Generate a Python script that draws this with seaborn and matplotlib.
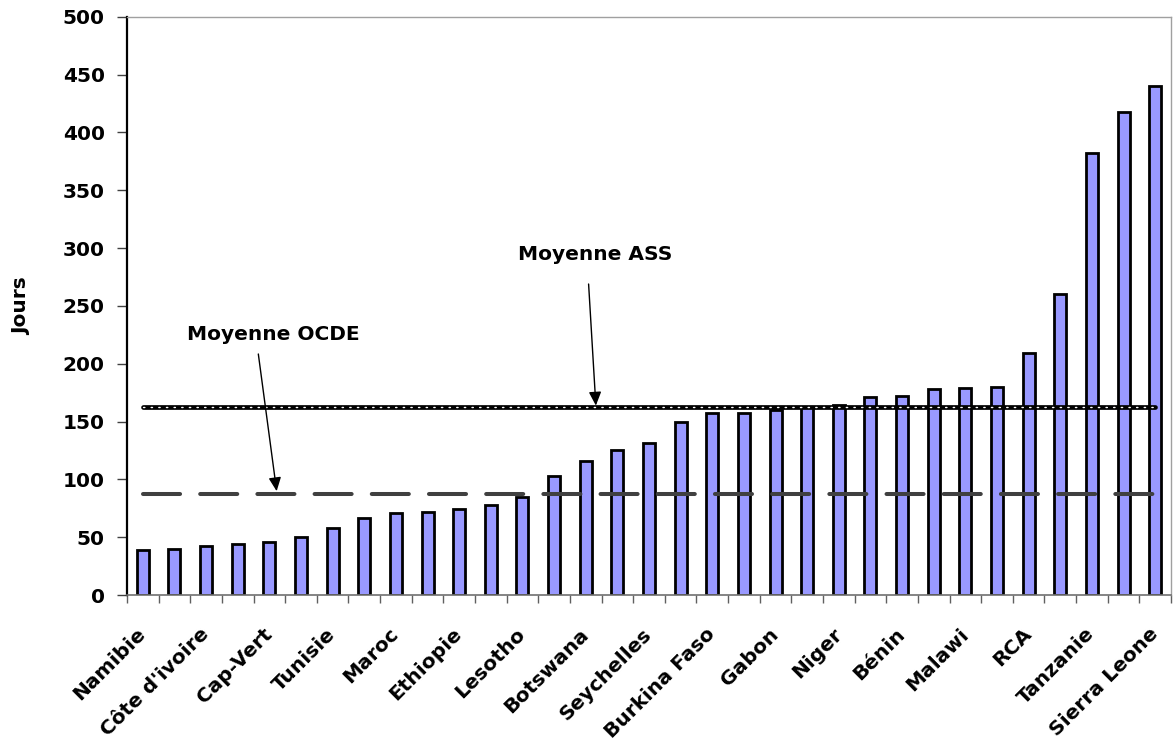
import numpy as np
import pandas as pd
import matplotlib
matplotlib.use("Agg")
import matplotlib.pyplot as plt
import seaborn as sns

# Délais (jours) classés par ordre croissant, un pays sur deux étiqueté
pays_affiches = ["Namibie", "Côte d'ivoire", "Cap-Vert", "Tunisie", "Maroc",
                 "Ethiopie", "Lesotho", "Botswana", "Seychelles", "Burkina Faso",
                 "Gabon", "Niger", "Bénin", "Malawi", "RCA", "Tanzanie",
                 "Sierra Leone"]
jours = [39, 40, 42.5, 44, 45.5, 50, 58, 67, 71, 72, 74, 77.5, 85, 103, 116,
         125, 131.5, 150, 157.5, 157.5, 160, 163, 164, 171, 172, 178, 179, 180,
         209.5, 260, 382, 417.5, 440]
moyenne_ocde = 87.3
moyenne_ass = 162.3
graduations_y = [0, 50, 100, 150, 200, 250, 300, 350, 400, 450, 500]

sns.set_theme(style="white")
plt.rcParams["font.family"] = ["DejaVu Sans"]
plt.rcParams["font.weight"] = "bold"
plt.rcParams["text.color"] = "black"
plt.rcParams["axes.labelcolor"] = "black"
plt.rcParams["xtick.labelcolor"] = "black"
plt.rcParams["ytick.labelcolor"] = "black"
FS = 14.5

fig = plt.figure(figsize=(11.73, 7.40), dpi=100)
ax = fig.add_axes([0.1083, 0.1959, 0.8900, 0.7815])

df = pd.DataFrame({"rang": np.arange(len(jours)), "jours": jours})
sns.barplot(data=df, x="rang", y="jours", color="#9999FF", saturation=1,
            width=0.38, edgecolor="black", linewidth=2.0, ax=ax, zorder=2)

# Moyenne ASS : trait noir épais pointillé de blanc
ax.plot(df["rang"], [moyenne_ass] * len(df), color="black", lw=3.4,
        solid_capstyle="round", zorder=4)
ax.plot(df["rang"], [moyenne_ass] * len(df), color="white", lw=1.0,
        linestyle=(0, (1, 4.5)), dash_capstyle="round", zorder=5)

# Moyenne OCDE : tirets longs gris foncé
ax.plot(df["rang"], [moyenne_ocde] * len(df), color="#404040", lw=2.9,
        linestyle=(0, (9.2, 5.0)), dash_capstyle="round", zorder=4)

ax.set_xlim(-0.5, len(jours) - 0.5)
ax.set_ylim(0, 500)
ax.set_yticks(graduations_y)
ax.set_yticklabels([str(v) for v in graduations_y], fontsize=FS, fontweight="bold")

etiquettes = [""] * len(jours)
for i, nom in enumerate(pays_affiches):
    etiquettes[2 * i] = nom
ax.set_xticks(range(len(jours)))
ax.set_xticklabels(etiquettes, rotation=45, ha="right", va="center",
                   rotation_mode="anchor", fontsize=FS, fontweight="bold")
ax.set_xticks(np.arange(-0.5, len(jours), 1), minor=True)

ax.tick_params(axis="x", which="major", length=0, pad=26, bottom=True)
ax.tick_params(axis="x", which="minor", length=6, width=1, color="#606060",
               direction="out", bottom=True)
ax.tick_params(axis="y", which="major", length=7, width=1, color="#404040",
               direction="out", left=True, pad=9)

ax.set_xlabel("")
ax.set_ylabel("Jours", fontsize=FS, fontweight="bold")
ax.yaxis.set_label_coords(-0.092, 0.5)

for side in ("top", "right"):
    ax.spines[side].set_color("#A0A0A0")
    ax.spines[side].set_linewidth(1.0)
ax.spines["left"].set_color("black")
ax.spines["left"].set_linewidth(1.6)
ax.spines["bottom"].set_color("#707070")
ax.spines["bottom"].set_linewidth(1.2)

fleche = dict(arrowstyle="-|>,head_length=0.55,head_width=0.25",
              color="black", lw=1.0, shrinkA=0, shrinkB=0,
              mutation_scale=15)
ax.text(14.29, 294.8, "Moyenne ASS", ha="center", va="center",
        fontsize=FS, fontweight="bold")
ax.annotate("", xy=(14.32, 163.8), xytext=(14.09, 268.9), arrowprops=fleche,
            zorder=6)
ax.text(4.12, 225.0, "Moyenne OCDE", ha="center", va="center",
        fontsize=FS, fontweight="bold")
ax.annotate("", xy=(4.23, 89.8), xytext=(3.65, 208.4), arrowprops=fleche,
            zorder=6)

fig.savefig("out.png", dpi=100, facecolor="white")
